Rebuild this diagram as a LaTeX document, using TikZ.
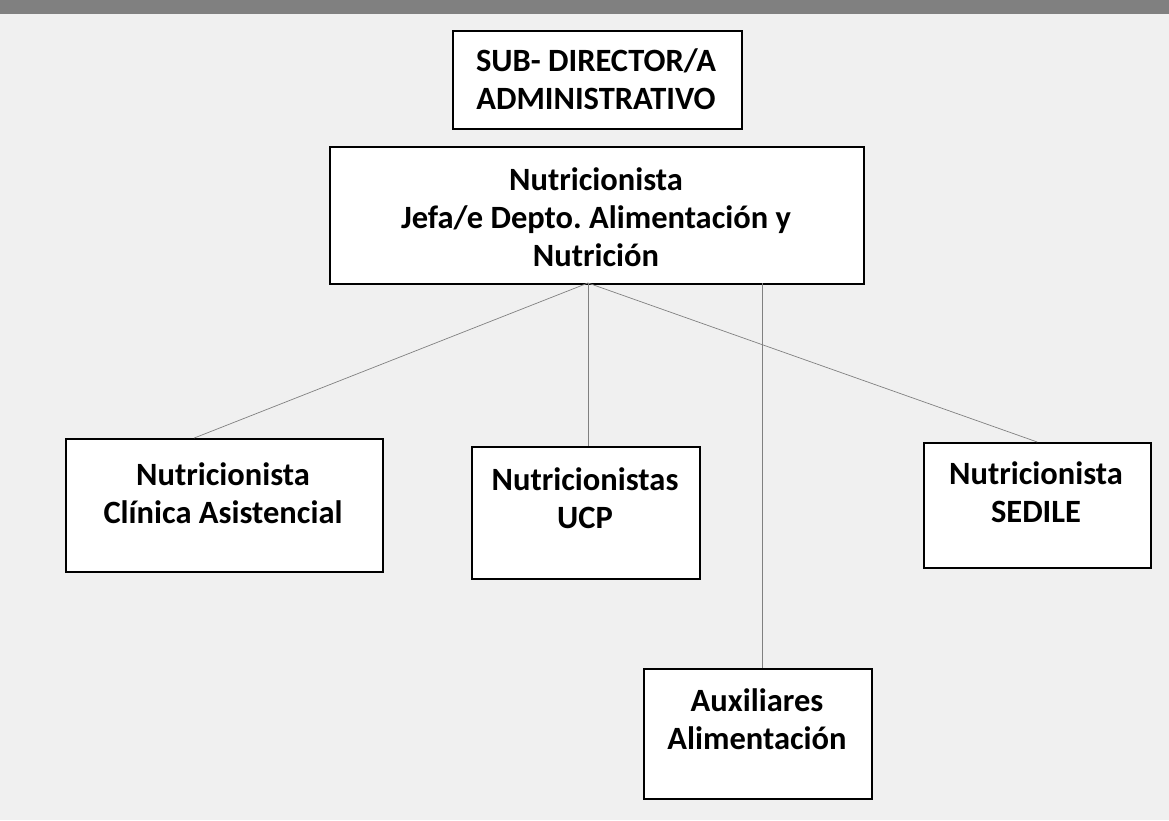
\documentclass[tikz,border=0pt]{standalone}
\usepackage{fontspec}
\setmainfont{Carlito}

\begin{document}
\begin{tikzpicture}
  [x=1pt, y=-1pt,
   every node/.style={font=\bfseries\fontsize{32.5}{38}\selectfont, align=center, inner sep=0pt},
   unit/.style={draw=black, line width=1.5pt, fill=white, anchor=north west},
   title/.style={anchor=north},
   link/.style={draw=black!50, line width=0.7pt}]
  % scanned page
  \fill[black!6] (0,0) rectangle (1169,820);
  \fill[black!50] (0,0) rectangle (1169,14);
  \useasboundingbox (0,0) rectangle (1169,820);

  \node[unit, minimum width=289pt, minimum height=98pt] (sub) at (452,30) {};
  \node[title] (subtxt) at (596,48) {SUB- DIRECTOR/A\\ADMINISTRATIVO};

  \node[unit, minimum width=534pt, minimum height=137pt] (jefe) at (329,146) {};
  \node[title] (jefetxt) at (596,167) {Nutricionista\\Jefa/e Depto.\ Alimentación y\\Nutrición};

  \node[unit, minimum width=317pt, minimum height=133pt] (clin) at (65,438) {};
  \node[title] (clintxt) at (223,462) {Nutricionista\\Clínica Asistencial};

  \node[unit, minimum width=228pt, minimum height=132pt] (ucp) at (471,446) {};
  \node[title] (ucptxt) at (585,467) {Nutricionistas\\UCP};

  \node[unit, minimum width=227pt, minimum height=125pt] (sedile) at (923,442) {};
  \node[title] (sediletxt) at (1036,461) {Nutricionista\\SEDILE};

  \node[unit, minimum width=228pt, minimum height=130pt] (aux) at (643,668) {};
  \node[title] (auxtxt) at (757,688) {Auxiliares\\Alimentación};

  \coordinate (fork) at (588,283);
  \coordinate (drop) at (762,283);
  \draw[link] (fork) -- ([xshift=-30pt]clin.north);
  \draw[link] (fork) -- (fork |- ucp.north);
  \draw[link] (fork) -- (sedile.north);
  \draw[link] (drop) -- (drop |- aux.north);
\end{tikzpicture}
\end{document}
